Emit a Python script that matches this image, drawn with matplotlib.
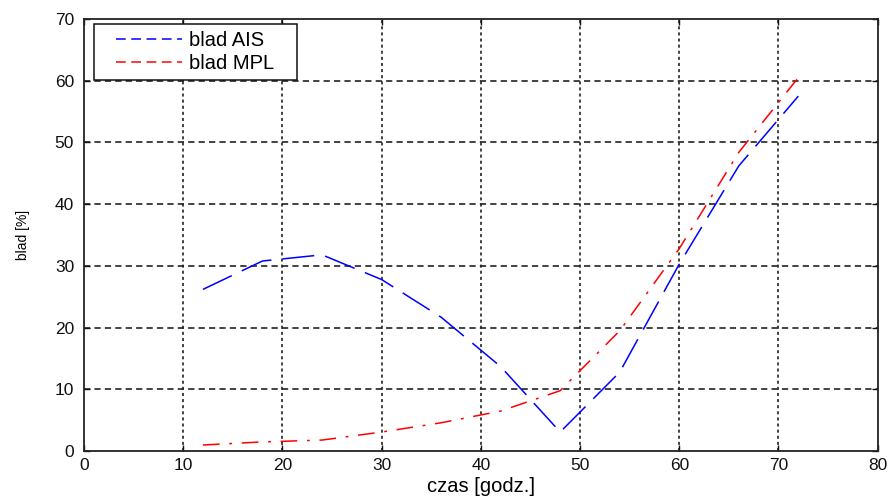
import matplotlib
matplotlib.use("Agg")
import matplotlib.pyplot as plt
from matplotlib.lines import Line2D
from matplotlib.legend_handler import HandlerLine2D

plt.rcParams['font.family'] = ['Liberation Sans', 'DejaVu Sans']
plt.rcParams['lines.scale_dashes'] = False

# Forecast horizon [h]
czas = [12, 18, 24, 30, 36, 42, 48, 54, 60, 66, 72]
# Relative error of each method [%]
blad_ais = [26.2, 30.8, 31.8, 27.8, 21.7, 13.7, 3.1, 12.8, 30.3, 46.2, 57.5]
blad_mpl = [1.0, 1.5, 1.8, 3.1, 4.6, 6.5, 9.8, 19.5, 32.8, 48.4, 60.5]

xticks = [0, 10, 20, 30, 40, 50, 60, 70, 80]
yticks = [0, 10, 20, 30, 40, 50, 60, 70]

fig = plt.figure(figsize=(8.92, 4.98), dpi=100)
ax = fig.add_axes([0.094, 0.094, 0.890, 0.868])

ax.plot(czas, blad_ais, color='#0000ff', lw=1.1, dashes=(23, 8), label='blad AIS')
ax.plot(czas, blad_mpl, color='#ff0000', lw=1.1, dashes=(12, 7, 2, 7), label='blad MPL')

ax.set_xlim(0, 80)
ax.set_ylim(0, 70)
ax.set_xticks(xticks)
ax.set_yticks(yticks)

# grid: dotted-looking verticals, dashed horizontals
for x in xticks[1:-1]:
    ax.axvline(x, color='#222222', lw=1.2, dashes=(2.2, 2.2), zorder=0)
for y in yticks[1:-1]:
    ax.axhline(y, color='#222222', lw=1.2, dashes=(4.5, 3), zorder=0)

ax.tick_params(direction='in', top=True, right=True, length=4, width=1,
               labelsize=12.5, colors='#111111')
ax.tick_params(axis='y', pad=7)
ax.tick_params(axis='x', pad=5)
for s in ax.spines.values():
    s.set_linewidth(1.3)
    s.set_color('#222222')

ax.set_xlabel('czas [godz.]', fontsize=14.5, labelpad=3)
ax.set_ylabel('blad [%]', fontsize=10, labelpad=18)

handles = [
    Line2D([], [], color='#0000ff', lw=1.1, dashes=(7, 4)),
    Line2D([], [], color='#ff0000', lw=1.1, dashes=(7, 4)),
]
leg = ax.legend(handles, ['blad AIS', 'blad MPL'], loc='upper left',
                bbox_to_anchor=(0.0126, 0.5, 0.256, 0.488), mode='expand',
                fontsize=14.5, frameon=True,
                fancybox=False, framealpha=1, edgecolor='#111111',
                handlelength=4.05, handletextpad=0.3, borderpad=0.35,
                labelspacing=0.2, borderaxespad=0,
                handler_map={Line2D: HandlerLine2D(xpad=0.75)})
leg.get_frame().set_linewidth(1.1)

fig.savefig('out.png', dpi=100)
